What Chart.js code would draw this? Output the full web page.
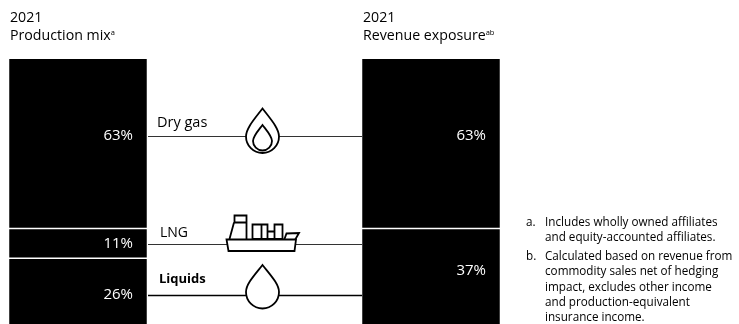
<!DOCTYPE html>
<html>
<head>
<meta charset="utf-8">
<script src="https://cdn.jsdelivr.net/npm/chart.js@4"></script>
<style>
html, body { margin: 0; padding: 0; background: #fff; overflow: hidden; }
#wrap { position: relative; width: 739px; height: 324px; font-family: "Open Sans", sans-serif; color: #000; }
canvas { position: absolute; left: 0; top: 0; }
.title { position: absolute; top: 8px; font-size: 14.2px; line-height: 18px; white-space: nowrap; }
.title sup { font-size: 7.5px; line-height: 0; vertical-align: 5px; }
.note { position: absolute; left: 526px; font-size: 11.7px; line-height: 15.3px; white-space: nowrap; }
.note span { display: inline-block; width: 19px; }
.note div { padding-left: 19px; }
</style>
</head>
<body>
<div id="wrap">
  <canvas id="mix" width="739" height="324"></canvas>
  <div class="title" style="left:10px">2021<br>Production mix<sup>a</sup></div>
  <div class="title" style="left:363px">2021<br>Revenue exposure<sup>ab</sup></div>
  <div id="notes"></div>
</div>
<script>
// stacked from the bottom up, so liquids come first
const categories = ['Production mix', 'Revenue exposure'];
const seriesNames = ['Liquids', 'LNG', 'Dry gas'];
const liquidsValues = [26, 37];
const lngValues = [11, null];
const dryGasValues = [63, 63];

// where the labels and connector lines sit, in axis units
const connectorLevels = [12.7, 31.6, 71.5];
const mixLabelLevels = [12.7, 31.6, 71.5];
const revenueLabelLevels = [21.6, null, 71.5];

const noteA = ['Includes wholly owned affiliates', 'and equity-accounted affiliates.'];
const noteB = ['Calculated based on revenue from', 'commodity sales net of hedging', 'impact, excludes other income', 'and production-equivalent', 'insurance income.'];

function addNote(letter, lines, top) {
    let note = document.createElement('div');
    note.className = 'note';
    note.style.top = top + 'px';
    note.innerHTML = '<span>' + letter + '.</span>' + lines[0] + lines.slice(1).map(l => '<div>' + l + '</div>').join('');
    document.getElementById('notes').appendChild(note);
}
addNote('a', noteA, 214);
addNote('b', noteB, 248);

function flameOutline(ctx, cx, top, bottom, halfWidth) {
    let midY = bottom - halfWidth;
    let rise = midY - top;
    ctx.beginPath();
    ctx.moveTo(cx, top);
    ctx.bezierCurveTo(cx + halfWidth * 0.45, top + rise * 0.35, cx + halfWidth, midY - rise * 0.3, cx + halfWidth, midY);
    ctx.arc(cx, midY, halfWidth, 0, Math.PI);
    ctx.bezierCurveTo(cx - halfWidth, midY - rise * 0.3, cx - halfWidth * 0.45, top + rise * 0.35, cx, top);
    ctx.closePath();
    ctx.fill();
    ctx.stroke();
}

function drawShip(ctx) {
    // bridge
    ctx.beginPath();
    ctx.rect(234.5, 215.5, 12, 7);
    ctx.moveTo(234, 222.5);
    ctx.lineTo(229.5, 239);
    ctx.moveTo(246.5, 222.5);
    ctx.lineTo(246.5, 239);
    // containers
    ctx.rect(252.5, 224.5, 9, 14.5);
    ctx.rect(261.5, 224.5, 6, 14.5);
    ctx.rect(267.5, 231.5, 7, 7.5);
    ctx.rect(274.5, 224.5, 8, 14.5);
    // bow
    ctx.moveTo(284.5, 239);
    ctx.lineTo(286.5, 233.5);
    ctx.lineTo(299, 233);
    ctx.lineTo(295, 240);
    ctx.stroke();
    // hull
    ctx.beginPath();
    ctx.moveTo(226.5, 239.5);
    ctx.lineTo(296, 239.5);
    ctx.lineTo(294.5, 251);
    ctx.lineTo(228.5, 251);
    ctx.closePath();
    ctx.fill();
    ctx.stroke();
}

const overlayPlugin = {
    id: 'overlay',
    afterDatasetsDraw(chart) {
        let ctx = chart.ctx;
        let x = chart.scales.x;
        let y = chart.scales.y;
        let lineLeft = x.getPixelForValue(0) + 70;
        let lineRight = x.getPixelForValue(1) - 69;
        let iconX = 262.5;

        ctx.save();
        // value labels on the bars
        ctx.font = '15px "Open Sans", sans-serif';
        ctx.fillStyle = '#fff';
        ctx.textAlign = 'right';
        ctx.textBaseline = 'middle';
        let barRight = [x.getPixelForValue(0) + 55, x.getPixelForValue(1) + 55];
        chart.data.datasets.forEach((ds, i) => {
            [mixLabelLevels[i], revenueLabelLevels[i]].forEach((level, c) => {
                if (level === null) return;
                ctx.fillText(ds.data[c] + '%', barRight[c], y.getPixelForValue(level));
            });
        });

        // connector lines
        ctx.strokeStyle = '#000';
        connectorLevels.forEach((level, i) => {
            let py = Math.round(y.getPixelForValue(level)) + 0.5;
            ctx.lineWidth = i === 0 ? 1.5 : 1;
            ctx.strokeStyle = i === 0 ? '#000' : '#333';
            ctx.beginPath();
            ctx.moveTo(lineLeft, py);
            ctx.lineTo(lineRight, py);
            ctx.stroke();
        });

        // series names above the lines
        ctx.fillStyle = '#000';
        ctx.textAlign = 'left';
        ctx.font = 'bold 13px "Open Sans", sans-serif';
        ctx.fillText(seriesNames[0], 159, y.getPixelForValue(connectorLevels[0]) - 16);
        ctx.font = '14px "Open Sans", sans-serif';
        ctx.fillText(seriesNames[1], 160, y.getPixelForValue(connectorLevels[1]) - 11);
        ctx.font = '14.5px "Open Sans", sans-serif';
        ctx.fillText(seriesNames[2], 157, y.getPixelForValue(connectorLevels[2]) - 13);

        // icons
        ctx.strokeStyle = '#000';
        ctx.fillStyle = '#fff';
        ctx.lineWidth = 1.8;
        ctx.lineJoin = 'miter';
        flameOutline(ctx, iconX, 108.5, 153, 16.5);
        flameOutline(ctx, iconX, 125, 150.5, 9.5);
        flameOutline(ctx, iconX, 265, 308.5, 16.5);
        drawShip(ctx);
        ctx.restore();
    }
};

new Chart(document.getElementById('mix'), {
    type: 'bar',
    data: {
        labels: categories,
        datasets: [
            { label: seriesNames[0], data: liquidsValues },
            { label: seriesNames[1], data: lngValues },
            { label: seriesNames[2], data: dryGasValues }
        ].map(ds => Object.assign(ds, {
            backgroundColor: '#000',
            borderColor: '#fff',
            borderWidth: { top: 0, left: 0, right: 0, bottom: 2 },
            borderSkipped: false,
            barThickness: 137.5,
            clip: false
        }))
    },
    options: {
        responsive: false,
        animation: false,
        devicePixelRatio: 1,
        layout: { padding: { left: 78, right: 308, top: 59, bottom: 0 } },
        plugins: { legend: { display: false }, tooltip: { enabled: false } },
        scales: {
            x: { display: false, stacked: true, offset: false, grid: { display: false } },
            // the picture crops the stack just above its foot
            y: { display: false, stacked: true, min: 2, max: 100, grid: { display: false } }
        }
    },
    plugins: [overlayPlugin]
});
</script>
</body>
</html>
